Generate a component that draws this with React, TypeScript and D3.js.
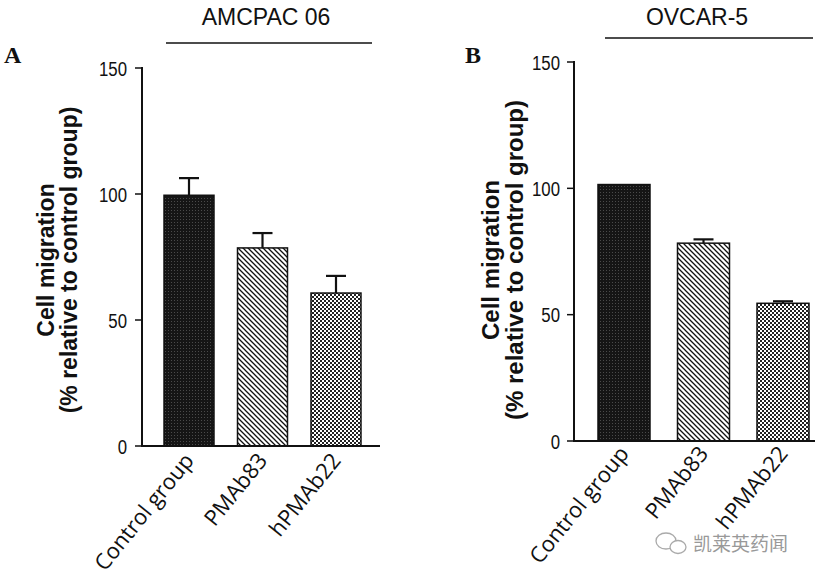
import React from "react";
import * as d3 from "d3";

const categories = ["Control group", "PMAb83", "hPMAb22"];
const amcpacValues = [99.5, 78.6, 60.7];
const amcpacErrors = [6.8, 5.9, 6.8];
const ovcarValues = [101.5, 78.3, 54.5];
const ovcarErrors = [0, 1.5, 0.8];
const yTicks = [0, 50, 100, 150];
const fills = ["url(#pDark)", "url(#pHatch)", "url(#pCheck)"];

type PanelCfg = {
  letter: string;
  title: string;
  values: number[];
  errors: number[];
  axisX: number;
  y0: number;
  y150: number;
  band: [number, number];
  pi: number;
  po: number;
  xEnd: number;
  letterX: number;
  titleX: number;
  lineX: [number, number];
  lineY: number;
  labX1: number;
  labX2: number;
  labSize: number;
  labY: number;
  tickGap: number;
  xlabSize: number;
  xlabDy: number;
};

const panels: PanelCfg[] = [
  {
    letter: "A", title: "AMCPAC 06", values: amcpacValues, errors: amcpacErrors,
    axisX: 142, y0: 446, y150: 68, band: [152.25, 372.75], pi: 0.32, po: 0.16, xEnd: 380,
    letterX: 4, titleX: 266, lineX: [166, 372], lineY: 43,
    labX1: 54, labX2: 77, labSize: 23, labY: 260, tickGap: 15, xlabSize: 22, xlabDy: 15,
  },
  {
    letter: "B", title: "OVCAR-5", values: ovcarValues, errors: ovcarErrors,
    axisX: 574, y0: 441, y150: 62, band: [584.25, 822.75], pi: 0.346, po: 0.173, xEnd: 815,
    letterX: 465, titleX: 697, lineX: [605, 813], lineY: 38,
    labX1: 499, labX2: 523, labSize: 24, labY: 260, tickGap: 14, xlabSize: 22, xlabDy: 13,
  },
];

function Panel({ p }: { p: PanelCfg }) {
  const y = d3.scaleLinear().domain([0, 150]).range([p.y0, p.y150]);
  const x = d3.scaleBand<string>().domain(categories).range(p.band)
    .paddingInner(p.pi).paddingOuter(p.po);
  const bw = x.bandwidth();
  return (
    <g>
      <text x={p.letterX} y={63} fontFamily="Liberation Serif, Times New Roman, serif"
        fontWeight="bold" fontSize={24} fill="#111">{p.letter}</text>
      <text x={p.titleX} y={25} textAnchor="middle" fontFamily="Liberation Sans, Arial, sans-serif"
        fontSize={23} fill="#111">{p.title}</text>
      <line x1={p.lineX[0]} x2={p.lineX[1]} y1={p.lineY} y2={p.lineY} stroke="#111" strokeWidth={1.6} />
      <text transform={`translate(${p.labX1},${p.labY}) rotate(-90)`} textAnchor="middle"
        fontFamily="Liberation Sans, Arial, sans-serif" fontWeight="bold" fontSize={p.labSize} fill="#111">
        Cell migration
      </text>
      <text transform={`translate(${p.labX2},${p.labY}) rotate(-90)`} textAnchor="middle"
        fontFamily="Liberation Sans, Arial, sans-serif" fontWeight="bold" fontSize={p.labSize} fill="#111">
        (% relative to control group)
      </text>
      {categories.map((c, i) => {
        const v = p.values[i];
        const e = p.errors[i];
        const bx = x(c)!;
        const cx = bx + bw / 2;
        return (
          <g key={c}>
            {e > 0 && (
              <g stroke="#111" strokeWidth={2.2}>
                <line x1={cx} x2={cx} y1={y(v)} y2={y(v + e)} />
                <line x1={cx - 10} x2={cx + 10} y1={y(v + e)} y2={y(v + e)} />
              </g>
            )}
            <rect x={bx} y={y(v)} width={bw} height={y(0) - y(v)} fill={fills[i]}
              stroke="#111" strokeWidth={1.5} />
          </g>
        );
      })}
      <line x1={p.axisX} x2={p.axisX} y1={y(150) - 1} y2={y(0) + 1} stroke="#111" strokeWidth={2} />
      <line x1={p.axisX} x2={p.xEnd} y1={y(0)} y2={y(0)} stroke="#111" strokeWidth={2} />
      {yTicks.map((t) => (
        <g key={t}>
          <line x1={p.axisX - 7} x2={p.axisX} y1={y(t)} y2={y(t)} stroke="#111" strokeWidth={1.5} />
          <text transform={`translate(${p.axisX - p.tickGap},${y(t) + 7.5}) scale(0.8,1)`}
            textAnchor="end" fontFamily="Liberation Sans, Arial, sans-serif" fontSize={21} fill="#111">
            {t}
          </text>
        </g>
      ))}
      {categories.map((c) => {
        const cx = x(c)! + bw / 2;
        return (
          <text key={c} transform={`translate(${cx + 6},${y(0) + p.xlabDy}) rotate(-51)`} textAnchor="end"
            fontFamily="Open Sans, Noto Sans, sans-serif" fontWeight={500} fontSize={p.xlabSize} fill="#111">
            {c}
          </text>
        );
      })}
    </g>
  );
}

export default function App() {
  return (
    <svg width={820} height={578} style={{ position: "absolute", left: 0, top: 0, background: "#fff" }}>
      <defs>
        <pattern id="pDark" width={3} height={3} patternUnits="userSpaceOnUse">
          <rect width={3} height={3} fill="#151515" />
          <rect x={0} y={0} width={1} height={1} fill="#4a4a4a" />
        </pattern>
        <pattern id="pHatch" width={5} height={5} patternUnits="userSpaceOnUse">
          <rect width={5} height={5} fill="#fff" />
          <path d="M0,0 L5,5 M-1,4 L1,6 M4,-1 L6,1" stroke="#111" strokeWidth={1.3} />
        </pattern>
        <pattern id="pCheck" width={4} height={4} patternUnits="userSpaceOnUse">
          <rect width={4} height={4} fill="#fff" />
          <rect x={0} y={0} width={2} height={2} fill="#222" />
          <rect x={2} y={2} width={2} height={2} fill="#222" />
        </pattern>
      </defs>
      <rect width={820} height={578} fill="#fff" />
      {panels.map((p) => (
        <Panel key={p.letter} p={p} />
      ))}
      <g stroke="#aaa" strokeWidth={1.3} fill="#fff">
        <ellipse cx={666} cy={541} rx={10} ry={8} />
        <ellipse cx={678} cy={547} rx={8} ry={6.5} />
      </g>
      <text x={693} y={551} fontFamily="Noto Sans CJK SC, sans-serif" fontSize={19} fill="#999">
        凯莱英药闻
      </text>
    </svg>
  );
}
